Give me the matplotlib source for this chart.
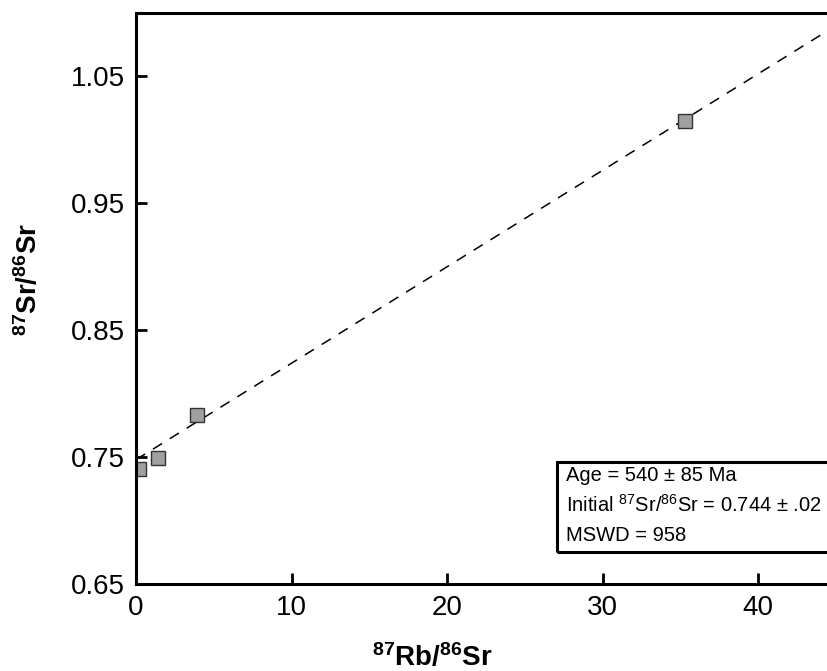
import numpy as np
import matplotlib
matplotlib.use("Agg")
import matplotlib.pyplot as plt
from matplotlib.patches import Rectangle

plt.rcParams['font.family'] = 'Liberation Sans'
plt.rcParams['mathtext.fontset'] = 'custom'
plt.rcParams['mathtext.rm'] = 'Liberation Sans'
plt.rcParams['mathtext.bf'] = 'Liberation Sans:bold'

# measured samples
rb_sr = [0.2, 1.4, 3.9, 35.3]
sr_sr = [0.741, 0.749, 0.783, 1.0145]

# isochron fit
intercept = 0.748
slope = 0.0076

info_lines = ["Age = 540 ± 85 Ma",
              r"Initial $^{87}$Sr/$^{86}$Sr = 0.744 ± .02",
              "MSWD = 958"]

fig = plt.figure(figsize=(8.28, 6.71), dpi=100)
ax = fig.add_axes([0.1643, 0.1297, 0.8357, 0.8509])

xfit = np.array([0, 44.5])
ax.plot(xfit, intercept + slope * xfit, color='black', lw=1.1, ls=(0, (7, 6)))
ax.plot(rb_sr, sr_sr, 's', ms=10, mfc='#a0a0a0', mec='#333333', mew=1.0, ls='none')

ax.set_xlim(0, 44.5)
ax.set_ylim(0.65, 1.10)
ax.set_xticks([0, 10, 20, 30, 40])
ax.set_yticks([0.65, 0.75, 0.85, 0.95, 1.05])
ax.set_yticklabels(['0.65', '0.75', '0.85', '0.95', '1.05'])
ax.tick_params(direction='in', length=8, width=2, labelsize=20, pad=8)
for s in ['left', 'bottom', 'top']:
    ax.spines[s].set_linewidth(2.2)
ax.spines['right'].set_visible(False)

ax.set_xlabel(r'$\mathbf{^{87}Rb/^{86}Sr}$', fontsize=20)
ax.set_ylabel(r'$\mathbf{^{87}Sr/^{86}Sr}$', fontsize=20)
ax.xaxis.set_label_coords(0.429, -0.104)
ax.yaxis.set_label_coords(-0.134, 0.534)

ax.add_patch(Rectangle((27.07, 0.675), 20, 0.071, fill=False, lw=2.2,
                       edgecolor='black', zorder=5))
for i, line in enumerate(info_lines):
    ax.text(27.65, 0.7355 - i * 0.0235, line, fontsize=14.5, va='center',
            ha='left', zorder=6)

fig.savefig('out.png', dpi=100)
